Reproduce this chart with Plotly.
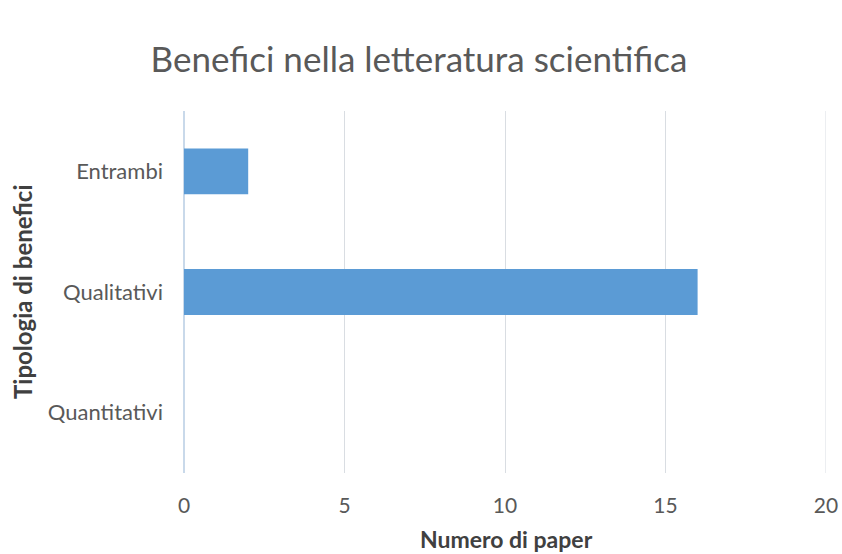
import plotly.graph_objects as go

# Number of papers per benefit type
categories = ["Entrambi", "Qualitativi", "Quantitativi"]
papers = [2, 16, 0]
x_ticks = [0, 5, 10, 15, 20]

title_text = "Benefici nella letteratura scientifica"
x_title = "Numero di paper"
y_title = "Tipologia di benefici"

FONT = "Lato, Carlito, 'Open Sans', sans-serif"
GRID = "#d9dde2"

# plot area in pixels
L, R, T, B = 184, 16, 111, 81
PW, PH = 842 - L - R, 554 - T - B

fig = go.Figure(
    go.Bar(
        y=categories,
        x=papers,
        orientation="h",
        marker=dict(color="#5b9bd5", line=dict(width=0)),
    )
)

fig.update_layout(
    width=842,
    height=554,
    margin=dict(l=L, r=R, t=T, b=B, autoexpand=False),
    paper_bgcolor="white",
    plot_bgcolor="white",
    bargap=0.62,
    showlegend=False,
    font=dict(family=FONT, color="#595959"),
    title=dict(
        text=title_text,
        x=(152 + 686) / 2 / 842,
        xanchor="center",
        y=1 - 60 / 554,
        yanchor="middle",
        font=dict(size=35, color="#595959", family=FONT),
    ),
)

fig.update_xaxes(
    range=[x_ticks[0], x_ticks[-1]],
    tickvals=x_ticks,
    automargin=False,
    showgrid=True,
    gridcolor=GRID,
    gridwidth=1,
    zeroline=True,
    zerolinecolor="#c9d9ea",
    showline=False,
    ticks="",
    ticklabelstandoff=18,
    tickfont=dict(size=21, color="#595959", family=FONT),
)

fig.update_yaxes(
    categoryorder="array",
    categoryarray=categories,
    autorange="reversed",
    automargin=False,
    showgrid=False,
    zeroline=False,
    showline=False,
    ticks="",
    ticklabelstandoff=20,
    tickfont=dict(size=22, color="#595959", family=FONT),
)

# gridline at the right edge of the value axis
fig.add_shape(
    type="line",
    xref="x", yref="paper",
    x0=x_ticks[-1], x1=x_ticks[-1], y0=0, y1=1,
    line=dict(color=GRID, width=1),
    layer="below",
)

fig.add_annotation(
    text="<b>" + x_title + "</b>",
    xref="paper", yref="paper",
    x=((413 + 600) / 2 - L) / PW, y=-(539 - (554 - B)) / PH,
    xanchor="center", yanchor="middle",
    showarrow=False,
    font=dict(size=23, color="#404040", family=FONT),
)

fig.add_annotation(
    text="<b>" + y_title + "</b>",
    xref="paper", yref="paper",
    x=(22 - L) / PW, y=(PH - (292 - T)) / PH,
    xanchor="center", yanchor="middle",
    textangle=-90,
    showarrow=False,
    font=dict(size=24, color="#404040", family=FONT),
)

fig.write_html("out.html")
